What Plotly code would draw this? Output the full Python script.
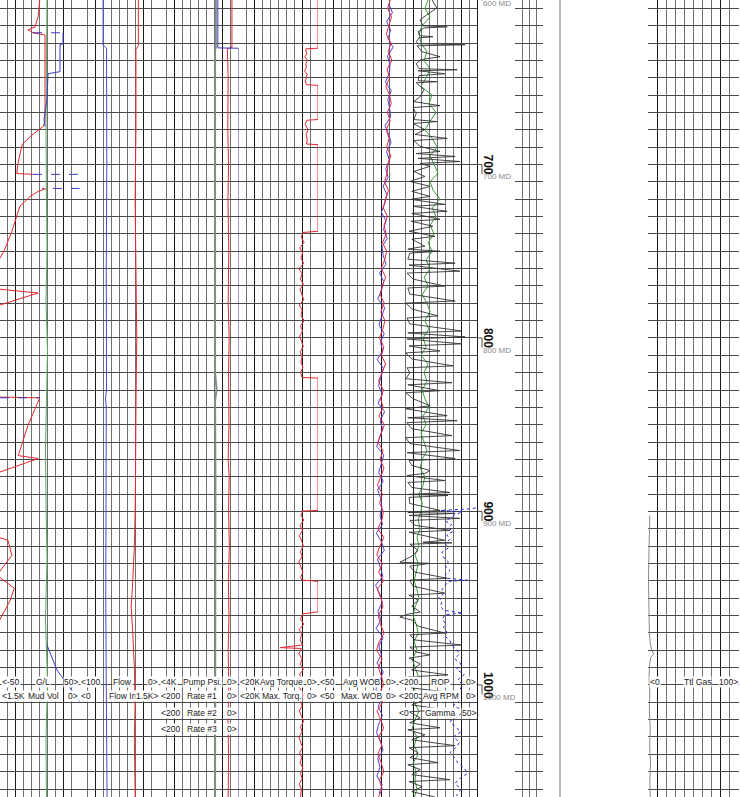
import plotly.graph_objects as go

W, H = 740, 797

# ---------------- data ----------------
DEPTH_RANGE = [1064.6, 605.2]
DEPTH_MARKS = [600, 700, 800, 900, 1000]

GRID5 = [605, 610, 615, 620, 625, 630, 635, 640, 645, 650,
         655, 660, 665, 670, 675, 680, 685, 690, 695, 700,
         705, 710, 715, 720, 725, 730, 735, 740, 745, 750,
         755, 760, 765, 770, 775, 780, 785, 790, 795, 800,
         805, 810, 815, 820, 825, 830, 835, 840, 845, 850,
         855, 860, 865, 870, 875, 880, 885, 890, 895, 900,
         905, 910, 915, 920, 925, 930, 935, 940, 945, 950,
         955, 960, 965, 970, 975, 980, 985, 990, 995, 1000,
         1005, 1010, 1015, 1020, 1025, 1030, 1035, 1040, 1045, 1050,
         1055, 1060, 1065]
GRID5_OFF = [607.5, 612.5, 617.5, 622.5, 627.5, 632.5, 637.5, 642.5, 647.5, 652.5,
             657.5, 662.5, 667.5, 672.5, 677.5, 682.5, 687.5, 692.5, 697.5, 702.5,
             707.5, 712.5, 717.5, 722.5, 727.5, 732.5, 737.5, 742.5, 747.5, 752.5,
             757.5, 762.5, 767.5, 772.5, 777.5, 782.5, 787.5, 792.5, 797.5, 802.5,
             807.5, 812.5, 817.5, 822.5, 827.5, 832.5, 837.5, 842.5, 847.5, 852.5,
             857.5, 862.5, 867.5, 872.5, 877.5, 882.5, 887.5, 892.5, 897.5, 902.5,
             907.5, 912.5, 917.5, 922.5, 927.5, 932.5, 937.5, 942.5, 947.5, 952.5,
             957.5, 962.5, 967.5, 972.5, 977.5, 982.5, 987.5, 992.5, 997.5, 1002.5,
             1007.5, 1012.5, 1017.5, 1022.5, 1027.5, 1032.5, 1037.5, 1042.5, 1047.5, 1052.5,
             1057.5, 1062.5]

# Track 1: G/L (red), Mud Vol (green), auxiliary pit curve (blue)
GL_DEPTH = [605.2, 614.9, 620.7, 622.4, 623.3, 624.1, 625.3, 675.3, 678.1, 683.9,
            688.5, 698.3, 705.2, 705.7, None, 713.8, 715.5, 718.4, 724.1, 738.5,
            750.0, 756.9, 771.8, 774.1, 781.6, 834.0, 834.5, 850.6, 867.8, 869.5,
            877.6, 913.8, 916.6, 925.3, 931.0, 936.8, 944.2, 951.1, 958.0, 965.5, 1064.6]
GL_VAL = [0, -2, -6, -15, -11, -8.5, 6.6, 6.6, 4, -12,
          -22, -27, -29, -8.5, None, 9, -2, -12, -25, -35,
          -45, -54, -52, -2, -54, -60, 0, -15, -27, -2,
          -52, -60, -40, -35, -45, -54, -32, -37, -45, -54, -60]

MUD_DEPTH = [605.2, 675.3, 721.2, 750.0, 778.7, 807.5, 836.2, 864.9, 893.7, 928.1,
             962.6, 997.1, 1031.6, 1064.6]
MUD_VAL = [613, 632, 623, 613, 632, 604, 623, 642, 632, 613, 642, 604, 632, 623]

AUX_DEPTH = [624.1, 630.4, 631.0, 646.5, 647.7, 662.1, 674.1, 678.1, None, 977.0, 991.4, 1009.7]
AUX_VAL = [311, 311, 368, 368, 594, 613, 670, 651, None, 613, 425, -9]

CONN_DEPTH = [624.1, 624.1, None, 705.7, 705.7, None, 713.8, 713.8, None, 834.5, 834.5]
CONN_VAL = [877, 311, None, 877, -9, None, -9, 708, None, 1500, 745]

# Track 2: Flow (red), Flow In (blue)
FLOW_DEPTH = [605.2, 631.5, 633.5, 680, 720, 760, 800, 840, 870, 880, 900, 920, 940, 955,
              970, 990, 1010, 1030, 1064.6]
FLOW_VAL = [26, 26, 29, 29, 30, 29, 28, 29, 30, 29.5, 30, 31, 33, 35, 33, 31, 30, 31, 30]

FIN_DEPTH = [605.2, 631.0, 633.0, 700, 760, 800, 830, 835, 840, 900, 950, 1000, 1064.6]
FIN_VAL = [445, 445, 510, 515, 505, 500, 510, 490, 505, 500, 495, 505, 520]

# Track 3: Pump Psi (red), Rate #1 (grey), Rate #2 (blue)
PSI_DEPTH = [605.2, 632.5, 633.3, 650, 680, 700, 720, 750, 780, 800, 820, 850, 870, 880,
             900, 920, 940, 960, 980, 1000, 1020, 1040, 1064.6]
PSI_VAL = [330, 330, 560, 520, 540, 500, 530, 490, 520, 470, 500, 480, 520, 470,
           500, 460, 510, 480, 520, 490, 530, 500, 520]

RATE1_DEPTH = [605.2, 632.5, 633.5, 700, 820, 830, 836, 880, 1064.6]
RATE1_VAL = [57, 57, 59, 59, 59, 55, 59, 58, 59]

RATE2_DEPTH = [605.2, 632.8, 633.0, 1064.6]
RATE2_VAL = [52, 52, 0, 0]

# Track 4: Avg Torque
TORQ_DEPTH = [605.2, 633.0, 633.3, 634, 636, 638, 640, 642, 644, 646, 648, 650, 652, 654, 654.4,
              674.1, 674.5, 677, 680, 683, 686, 688.2, 688.6,
              738.5, 739.2, 742, 745, 748, 751, 754, 757, 760, 763, 766, 769, 772, 775, 778, 781,
              784, 787, 790, 793, 796, 799, 802, 805, 808, 811, 814, 817, 820, 822.8, 823.1,
              899.4, 899.8, 902, 905, 908, 911, 914, 917, 920, 923, 926, 929, 932, 935, 938,
              939.6, 940.0, 940.3,
              957.9, 958.2, 959, 962, 965, 968, 971, 974, 977, 978.5, 979, 982, 985, 988, 991,
              994, 997, 1000, 1003, 1006, 1009, 1012, 1015, 1018, 1021, 1024, 1027, 1030, 1033,
              1036, 1039, 1042, 1045, 1048, 1051, 1054, 1057, 1060, 1064.6]
TORQ_VAL = [0, 0, 3000, 3100, 2800, 3300, 2600, 3100, 2900, 3400, 2700, 3000, 3200, 2900, 0,
            0, 2800, 3200, 2500, 3000, 2700, 2900, 0,
            0, 3800, 4200, 3500, 4600, 3900, 4300, 3600, 4800, 4000, 4400, 3700, 4500, 4100, 3600, 4700,
            4000, 4300, 3500, 4400, 3900, 4600, 4100, 3700, 4500, 4000, 4300, 3800, 4400, 4000, 0,
            0, 3800, 4300, 3600, 4500, 3900, 4700, 4100, 3700, 4400, 4000, 4800, 4200, 3800, 4400,
            4000, 1500, 0,
            0, 1500, 3800, 4400, 3600, 4700, 4100, 4500, 3900, 9500, 4200, 4800, 4000, 4400, 3700,
            4600, 4100, 4900, 4300, 3800, 4500, 4000, 4700, 4200, 3600, 4400, 4000, 4800, 4300,
            3900, 4600, 4100, 4500, 3800, 4400, 4000, 4700, 4200, 4400]

# Track 5: Avg WOB (red, on GRID5), Max WOB (blue, on GRID5_OFF)
WOB_AVG = [4.5, 6.2, 3.8, 5.5, 7.0, 4.1, 5.8, 3.5, 6.6, 4.9, 7.3, 5.0, 3.9, 6.4, 4.6, 7.1, 5.3, 6.8, 4.2, 6.0,
           6.5, 8.2, 5.7, 7.6, 9.0, 6.3, 8.5, 7.1, 9.4, 6.8,
           8.1, 10.2, 7.4, 9.6, 11.0, 8.3, 10.5, 7.9, 9.2, 11.4,
           8.6, 10.1, 7.5, 9.8, 12.0, 8.8, 10.6, 9.0, 11.7, 8.2,
           10.4, 12.3, 9.1, 11.0, 8.5, 10.8, 12.6, 9.4, 11.3, 8.9,
           9.8, 12.4, 8.6, 11.2, 13.0, 9.5, 11.8, 8.9, 12.7, 10.3,
           9.1, 12.0, 10.8, 8.4, 11.5, 13.2, 9.7, 12.1, 10.0, 8.8,
           11.6, 9.3, 12.9, 10.5, 8.7, 11.9, 9.9, 12.5, 10.2, 8.6,
           11.4, 9.6, 12.2]
WOB_MAX = [5.5, 3.2, 6.8, 4.4, 5.9, 2.8, 6.3, 4.7, 5.2, 7.6, 3.9, 6.1, 5.0, 4.3, 7.8, 5.6, 4.0, 6.9, 5.1,
           7.4, 5.9, 9.1, 6.6, 8.0, 10.2, 7.2, 8.8, 6.4, 9.7,
           9.0, 7.2, 11.3, 8.7, 10.0, 12.4, 8.0, 9.9, 11.6, 8.4,
           10.7, 9.3, 12.8, 8.9, 10.4, 11.9, 9.6, 12.2, 8.1, 10.9,
           9.4, 11.5, 13.1, 8.6, 10.2, 11.8, 9.0, 12.4, 10.6, 9.8,
           11.0, 9.4, 13.3, 10.1, 8.3, 12.6, 10.7, 9.2, 13.8, 11.1,
           9.6, 12.3, 10.4, 13.5, 9.0, 11.7, 10.2, 12.9, 8.9, 11.3,
           13.6, 10.0, 12.1, 9.5, 11.8, 13.2, 10.6, 9.1, 12.4, 11.0,
           13.0, 9.7, 11.5]

# Track 6: ROP (black), Avg RPM (green, on GRID5), Gamma (blue dotted)
ROP_DEPTH = [605.2, 609.8, 613.2, 616.6, 620.1, 620.7, 621.3, 623.5, 625.8, 626.4,
             627.0, 629.3, 630.4, 631.0, 631.6, 635.0, 637.9, 639.6, 641.9, 644.8,
             645.4, 646.0, 647.7, 648.8, 651.7, 652.3, 652.9, 656.9, 660.9, 663.8,
             666.1, 667.2, 670.7, 674.1, 675.3, 676.4, 679.9, 682.7, 685.0, 686.2,
             689.6, 692.5, 693.7, 695.4, 696.5, 698.3, 699.4, 701.1, 704.0, 706.9,
             709.8, 712.6, 715.5, 718.4, 720.1, 723.0, 724.1, 727.0, 728.2, 731.6,
             732.7, 735.6, 738.5, 741.4, 743.1, 747.1, 748.8, 750.0, 751.1,
             754.6, 756.9, 758.0, 761.5, 762.6, 766.1, 770.1, 771.2, 774.7, 778.7,
             779.9, 783.3, 787.3, 788.5, 791.9, 796.0, 797.1, 799.4, 800.6, 803.4,
             804.6, 807.5, 808.6, 812.1, 816.1, 817.2, 820.1, 823.5, 825.8, 827.0,
             830.4, 831.6, 835.0, 839.1, 840.8, 844.8, 846.0, 847.7, 848.8, 852.3,
             856.3, 857.5, 860.9, 864.9, 866.1, 869.5, 870.7, 873.5, 876.4, 878.1,
             879.3, 882.2, 883.3, 886.2, 889.1, 890.2, 890.8, 891.9,
             895.4, 899.4, 900.6, 901.1, 902.3, 904.0, 905.2, 908.0, 910.9, 912.0,
             916.6, 917.8, 918.1, 918.9, 922.4, 925.8, 929.3, 929.9, 931.6, 935.0,
             938.5, 939.6, 943.1, 947.1, 948.3, 951.1, 954.6, 958.0, 959.2, 960.9,
             962.6, 966.1, 970.1, 971.2, 974.1, 977.0, 978.2, 981.0, 982.7, 984.5,
             987.9, 991.4, 994.2, 995.4, 998.3, 1001.7, 1004.6, 1005.7, 1008.6, 1011.5,
             1014.3, 1015.5, 1018.9, 1021.8, 1024.7, 1025.8, 1028.7, 1031.6, 1035.0, 1036.2,
             1039.1, 1041.9, 1044.8, 1046.0, 1048.8, 1051.7, 1054.6, 1055.7, 1058.6, 1061.5,
             1064.6]
ROP_VAL = [113, 101, 123, 143, 136, 75, 133, 148, 143, 111,
           146, 153, 148, 30, 151, 138, 93, 141, 153, 146,
           50, 148, 81, 146, 148, 101, 153, 133, 143, 159,
           93, 161, 153, 159, 101, 161, 131, 156, 75, 159,
           143, 93, 153, 55, 148, 43, 143, 118, 159, 131,
           169, 118, 164, 118, 166, 81, 161, 75, 164, 93,
           166, 111, 171, 106, 164, 131, 174, 93, 169,
           174, 55, 171, 43, 176, 161, 81, 174, 169, 55,
           179, 164, 98, 176, 169, 38, 174, 30, 176, 38,
           171, 93, 179, 164, 60, 176, 169, 179, 63, 174,
           93, 179, 161, 118, 179, 75, 174, 50, 176, 164,
           63, 179, 169, 43, 176, 55, 171, 164, 118, 131,
           176, 81, 174, 164, 68, 174, 73, 171,
           169, 93, 174, 55, 171, 43, 169, 156, 68, 171,
           81, 136, 63, 169, 148, 164, 194, 118, 169, 156,
           75, 169, 161, 81, 171, 148, 164, 143, 174, 194,
           164, 148, 81, 169, 156, 38, 169, 153, 118, 171,
           143, 164, 73, 174, 148, 166, 55, 171, 131, 164,
           81, 171, 143, 169, 93, 174, 131, 164, 55, 171,
           148, 169, 98, 174, 143, 164, 68, 171, 138, 164,
           106]

RPM_VAL = [123, 131, 118, 138, 146, 141, 126, 133, 118, 128, 141, 113, 121, 103, 118, 131, 113, 100, 118, 108,
           98, 118, 110, 93, 113, 103, 118, 108, 123, 113,
           128, 118, 133, 123, 138, 126, 118, 131, 121, 136,
           128, 141, 123, 133, 126, 138, 131, 121, 136, 128,
           141, 133, 126, 138, 143, 131, 136, 146, 138, 141,
           148, 143, 151, 146, 156, 148, 153, 158, 151, 146,
           156, 161, 153, 148, 158, 151, 163, 156, 148, 161,
           153, 158, 146, 156, 163, 151, 158, 148, 161, 153,
           156, 151, 158]

GAMMA_DEPTH = [892.0, 897.5, 898.5, 899.4, 900.2, 902.0, 904.0, 905.5, 907.5, 909.5,
               911.5, 913.5, 916.0, 918.5, 921.0, 923.5, 926.5, 929.0, 931.5, 934.0,
               936.5, 938.5, 939.6, 940.3, 942.5, 945.0, 947.5, 949.5, 952.0, 954.5,
               957.0, 958.6, 959.5, 962.0, 964.5, 967.0, 969.5, 972.0, 974.5, 977.0,
               979.5, 982.0, 985.0, 988.0, 991.0, 994.0, 997.0, 1000.0, 1003.0, 1006.0,
               1009.0, 1012.0, 1015.0, 1018.0, 1021.0, 1024.0, 1027.0, 1030.0, 1033.0, 1036.0,
               1039.0, 1042.0, 1045.0, 1048.0, 1051.0, 1054.0, 1057.0, 1060.0, 1064.0]
GAMMA_VAL = [58, 52, 46, 27, 41, 36, 33, 30, 34, 32,
             35, 31, 33, 30, 32, 28, 29, 32, 30, 33,
             30, 31, 44, 32, 30, 28, 29, 26, 28, 27,
             29, 41, 30, 28, 30, 29, 31, 30, 33, 34,
             37, 39, 36, 40, 37, 42, 38, 41, 39, 36,
             39, 35, 42, 38, 33, 36, 40, 35, 39, 37,
             33, 36, 38, 42, 44, 39, 36, 40, 37]

# Right track: Total gas
GAS_DEPTH = [902.3, 910, 920, 930, 940, 950, 960, 970, 976, 980, 982.2, 984, 988, 995,
             1005, 1015, 1025, 1035, 1045, 1055, 1064.6]
GAS_VAL = [2.0, 1.5, 1.0, 0.8, 0.5, 0.7, 1.0, 1.5, 2.5, 4.0, 6.5, 3.0, 1.8, 1.2,
           2.0, 1.5, 2.5, 1.8, 2.8, 2.0, 2.5]

# Header labels: (track index, row, left scale, name, right scale)
HEADER_LABELS = [
    (0, 0, "<-50", "G/L", "50>"),
    (1, 0, "<100", "Flow", "0>"),
    (2, 0, "<4K", "Pump Psi.", "0>"),
    (3, 0, "<20K", "Avg Torque", "0>"),
    (4, 0, "<50", "Avg WOB", "0>"),
    (5, 0, "<200", "ROP", "0>"),
    (7, 0, "<0", "Ttl Gas", "100>"),
    (0, 1, "<1.5K", "Mud Vol", "0>"),
    (1, 1, "<0", "Flow In", "1.5K>"),
    (2, 1, "<200", "Rate #1", "0>"),
    (3, 1, "<20K", "Max. Torq.", "0>"),
    (4, 1, "<50", "Max. WOB", "0>"),
    (5, 1, "<200", "Avg RPM", "0>"),
    (2, 2, "<200", "Rate #2", "0>"),
    (5, 2, "<0", "Gamma", "50>"),
    (2, 3, "<200", "Rate #3", "0>"),
]

# ---------------- layout / styling ----------------
FONT = "Liberation Sans, Arial, sans-serif"
GRID_COLOR = "#707070"
GRID_DARK = "#1a1a1a"
TRACKS = [(0, 79.5, 10, [2, 8]), (79.5, 159, 10, [2, 8]), (159, 238.5, 10, [2, 8]),
          (238.5, 318, 10, [2, 8]), (318, 397.5, 10, [2, 8]), (397.5, 477, 10, [2, 8]),
          (515, 543, 4, [0]), (648, 739, 10, [1, 8])]
HEADER_ROWS_PX = [682, 696, 713, 729]
HEADER_FONT = 8.5
NAME_SHIFT_PX = 3.5

fig = go.Figure()
layout = dict(
    width=W, height=H, margin=dict(l=0, r=0, t=0, b=0, pad=0),
    paper_bgcolor="white", plot_bgcolor="rgba(0,0,0,0)", showlegend=False,
    font=dict(family=FONT, size=9, color="#222"),
    yaxis=dict(domain=[0, 1], range=DEPTH_RANGE, autorange=False, tick0=0, dtick=10,
               showgrid=True, gridcolor="#4a4a4a", gridwidth=1, showticklabels=False,
               ticks="", zeroline=False, showline=False, fixedrange=True),
)

base_ids = []
for i, (a, b, n, dark) in enumerate(TRACKS):
    aid = "x" if i == 0 else f"x{i + 1}"
    key = "xaxis" if i == 0 else f"xaxis{i + 1}"
    dark_color = GRID_COLOR if i == 6 else GRID_DARK
    layout[key] = dict(domain=[a / W, b / W], range=[0, n], autorange=False,
                       tickmode="array", tickvals=dark, showgrid=True,
                       gridcolor=dark_color, gridwidth=1,
                       minor=dict(tickmode="linear", tick0=0, dtick=1, showgrid=True,
                                  gridcolor=GRID_COLOR, gridwidth=1, ticks=""),
                       showticklabels=False, ticks="", zeroline=False, showline=False,
                       anchor="y", fixedrange=True)
    base_ids.append(aid)
    fig.add_trace(go.Scatter(x=[None], y=[None], xaxis=aid, yaxis="y",
                             mode="lines", hoverinfo="skip"))

CURVE_AXES = [
    ("gl", 0, [-50, 50]),
    ("mudvol", 0, [1500, 0]),
    ("flow", 1, [100, 0]),
    ("flowin", 1, [0, 1500]),
    ("psi", 2, [4000, 0]),
    ("rate", 2, [200, 0]),
    ("torque", 3, [20000, 0]),
    ("wob", 4, [50, 0]),
    ("rop", 5, [200, 0]),
    ("gamma", 5, [0, 50]),
    ("gas", 7, [0, 100]),
]
axis_of = {}
for j, (name, ti, rng) in enumerate(CURVE_AXES):
    num = len(TRACKS) + 1 + j
    a, b = TRACKS[ti][0], TRACKS[ti][1]
    layout[f"xaxis{num}"] = dict(overlaying=base_ids[ti], domain=[a / W, b / W], range=rng,
                                 autorange=False, visible=False, showgrid=False,
                                 zeroline=False, anchor="y", fixedrange=True)
    axis_of[name] = f"x{num}"


def curve(axis, depth, vals, color, width=1.0, dash=None):
    fig.add_trace(go.Scatter(
        x=vals, y=depth, xaxis=axis_of[axis], yaxis="y", mode="lines",
        line=dict(color=color, width=width, dash=dash), hoverinfo="skip",
        connectgaps=False))


RED = "#e8252f"
BLUE = "#3a3ac8"
GREEN = "#3d9a3d"

curve("mudvol", MUD_DEPTH, MUD_VAL, "#5aa85a")
curve("mudvol", AUX_DEPTH, AUX_VAL, BLUE)
curve("mudvol", CONN_DEPTH, CONN_VAL, BLUE, dash="dash")
curve("gl", GL_DEPTH, GL_VAL, RED)
curve("flowin", FIN_DEPTH, FIN_VAL, "#4a4ad0")
curve("flow", FLOW_DEPTH, FLOW_VAL, RED)
curve("rate", RATE1_DEPTH, RATE1_VAL, "#7f8f7f", width=2)
curve("rate", RATE2_DEPTH, RATE2_VAL, BLUE)
curve("psi", PSI_DEPTH, PSI_VAL, RED)
curve("torque", TORQ_DEPTH, TORQ_VAL, RED)
curve("wob", GRID5_OFF, WOB_MAX, "#5a3ad0")
curve("wob", GRID5, WOB_AVG, "#e02845")
curve("gamma", GAMMA_DEPTH, GAMMA_VAL, "#2a2acc", dash="dot")
curve("rop", GRID5, RPM_VAL, GREEN)
curve("rop", ROP_DEPTH, ROP_VAL, "#333333", width=0.9)
curve("gas", GAS_DEPTH, GAS_VAL, "#8a8a8a")

shapes = []
# blank depth track (no grid)
shapes.append(dict(type="rect", xref="paper", yref="paper", x0=478.5 / W, x1=514.5 / W, y0=0, y1=1,
                   fillcolor="white", line=dict(width=0), layer="above"))
for d in DEPTH_MARKS:
    shapes.append(dict(type="line", xref="paper", yref="y", x0=477 / W, x1=482 / W, y0=d, y1=d,
                       line=dict(color="#555", width=1)))
    shapes.append(dict(type="line", xref="paper", yref="y", x0=482 / W, x1=482 / W, y0=d, y1=d + 5.5,
                       line=dict(color="#555", width=1)))
shapes.append(dict(type="line", xref="paper", yref="paper", x0=560 / W, x1=560 / W, y0=0, y1=1,
                   line=dict(color="#bdbdbd", width=2)))
shapes.append(dict(type="line", xref="paper", yref="paper", x0=477.5 / W, x1=477.5 / W, y0=0, y1=1,
                   line=dict(color=GRID_DARK, width=1)))
layout["shapes"] = shapes

ann = []
for d in DEPTH_MARKS:
    ann.append(dict(xref="paper", yref="y", x=497 / W, y=d, text=f"<b>{d}</b>", textangle=90,
                    showarrow=False, font=dict(family=FONT, size=12, color="#111")))
    ann.append(dict(xref="paper", yref="y", x=481.5 / W, y=d + 7.2, text=f"{d} MD", xanchor="left",
                    showarrow=False, font=dict(family=FONT, size=8, color="#8a8a8a")))

for ti, row, lo, name, hi in HEADER_LABELS:
    a, b = TRACKS[ti][0], TRACKS[ti][1]
    yy = 1 - HEADER_ROWS_PX[row] / H
    common = dict(xref="paper", yref="paper", y=yy, yanchor="middle", showarrow=False,
                  bgcolor="white", borderpad=0,
                  font=dict(family=FONT, size=HEADER_FONT, color="#222"))
    ann.append(dict(x=(a + 0.5) / W, xanchor="left", text=lo, **common))
    ann.append(dict(x=((a + b) / 2 + NAME_SHIFT_PX) / W, xanchor="center", text=name, **common))
    ann.append(dict(x=(b - 0.3) / W, xanchor="right", text=hi, **common))
layout["annotations"] = ann

fig.update_layout(**layout)
fig.write_html("out.html")
